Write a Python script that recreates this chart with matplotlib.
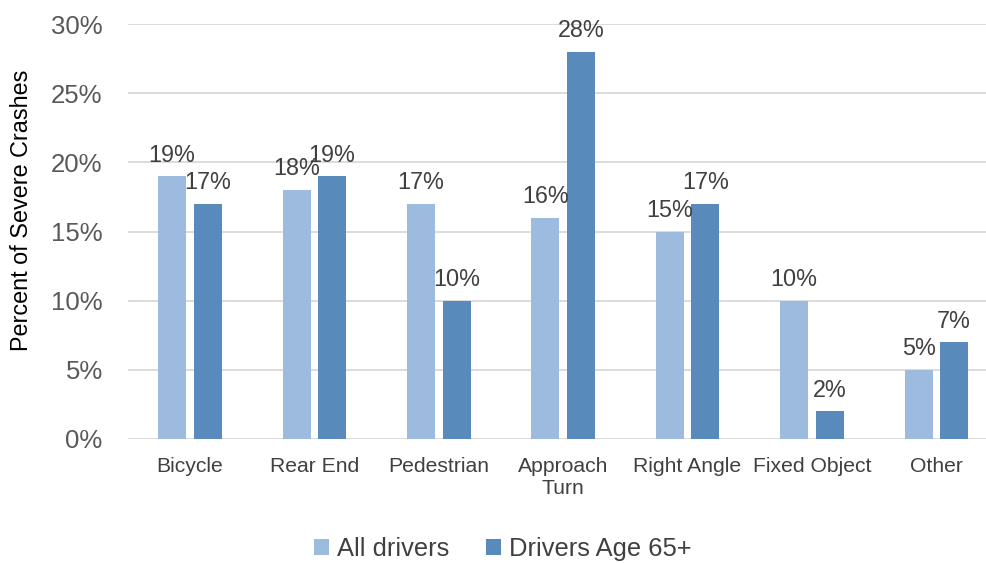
import matplotlib
matplotlib.use("Agg")
import matplotlib.pyplot as plt
import numpy as np

categories = ["Bicycle", "Rear End", "Pedestrian", "Approach\nTurn", "Right Angle", "Fixed Object", "Other"]
all_drivers = [19, 18, 17, 16, 15, 10, 5]
drivers_65 = [17, 19, 10, 28, 17, 2, 7]
series_names = ["All drivers", "Drivers Age 65+"]
yticks = [0, 5, 10, 15, 20, 25, 30]

plt.rcParams['font.family'] = ['Liberation Sans', 'DejaVu Sans']

fig = plt.figure(figsize=(9.86, 5.63), dpi=100)
left_px, right_px = 127.75, 986
bottom_px, top_px = 439, 24
W, H = 986, 563
ax = fig.add_axes([left_px / W, 1 - bottom_px / H, (right_px - left_px) / W, (bottom_px - top_px) / H])

slot = 124.4
x = np.arange(len(categories))
bw = 28 / slot
off = 17.8 / slot
c1 = "#9dbbdf"
c2 = "#588bbb"
b1 = ax.bar(x - off, all_drivers, bw, color=c1, label=series_names[0], zorder=3)
b2 = ax.bar(x + off, drivers_65, bw, color=c2, label=series_names[1], zorder=3)

for bars, vals in ((b1, all_drivers), (b2, drivers_65)):
    for r, v in zip(bars, vals):
        ax.annotate(f"{v}%", (r.get_x() + r.get_width() / 2, v), xytext=(0, 10.5),
                    textcoords="offset points", ha="center", va="baseline",
                    fontsize=16.8, color="#404040")

ax.set_xlim(-0.5, (right_px - left_px) / slot - 0.5)
ax.set_ylim(0, 30)
ax.set_yticks(yticks)
ax.set_yticklabels([f"{t}%" for t in yticks])
ax.set_xticks(x)
ax.set_xticklabels(categories, linespacing=1.18)
ax.tick_params(axis='y', length=0, pad=18, labelsize=18.5, labelcolor="#595959")
ax.tick_params(axis='x', length=0, pad=13, labelsize=15.2, labelcolor="#404040")
ax.grid(axis='y', color="#d9d9d9", linewidth=1.3, zorder=0)
ax.set_axisbelow(True)
for s in ax.spines.values():
    s.set_visible(False)
ax.set_ylabel("Percent of Severe Crashes", fontsize=16.8, color="#000000")
ax.yaxis.set_label_coords((33 - left_px) / (right_px - left_px), (bottom_px - 210.5) / (bottom_px - top_px))

leg = fig.legend(handles=[b1, b2], labels=series_names, loc="center", bbox_to_anchor=(502.5 / W, 1 - 549 / H),
                 ncol=2, frameon=False, fontsize=18.4, handlelength=0.6, handleheight=0.6,
                 handletextpad=0.3, columnspacing=1.45, labelcolor="#404040")

fig.savefig("out.png", dpi=100)
